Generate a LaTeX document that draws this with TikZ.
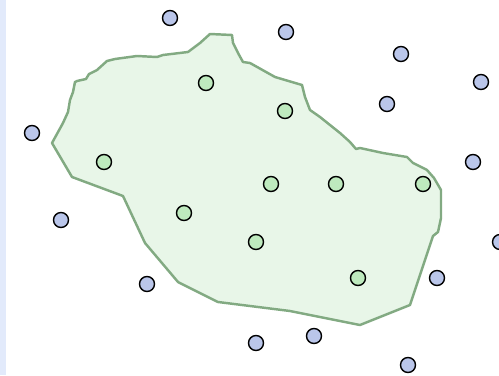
\documentclass[tikz,border=0pt]{standalone}
\usepackage{tikz}
\usetikzlibrary{backgrounds}
\usepackage{xcolor}
\definecolor{regionfill}{RGB}{232, 246, 232}
\definecolor{regionline}{RGB}{130, 170, 130}
\definecolor{outerdot}{RGB}{186, 198, 234}
\definecolor{innerdot}{RGB}{190, 234, 190}
\definecolor{sidestrip}{RGB}{226, 234, 251}
\tikzstyle{outpt} = [circle, draw=black, fill=outerdot, line width=0.8pt, minimum size=0.3cm, inner sep=0pt]
\tikzstyle{inpt} = [circle, draw=black, fill=innerdot, line width=0.8pt, minimum size=0.3cm, inner sep=0pt]
\tikzstyle{region} = [draw=regionline, fill=regionfill, line width=1.4pt, line join=round]

\begin{document}
\begin{tikzpicture}[x=0.02cm, y=-0.02cm]

% Frame
\useasboundingbox (0,0) rectangle (499,375);
\fill[sidestrip] (0,0) rectangle (6,375);

% Region
\draw[region] (52,143) -- (63,123) -- (68,112) -- (70,100) -- (73,92) -- (75,82) -- (77,81)
  -- (86,79) -- (89,74) -- (97,70) -- (107,61) -- (115,59) -- (137,56) -- (157,57)
  -- (163,55) -- (188,52) -- (200,43) -- (210,34) -- (232,35) -- (233,43) -- (238,53)
  -- (243,62) -- (250,63) -- (275,77) -- (302,85) -- (305,97) -- (310,110) -- (320,117)
  -- (330,125) -- (340,133) -- (350,142) -- (356,149) -- (360,148) -- (383,153)
  -- (407,157) -- (413,163) -- (427,170) -- (434,178) -- (441,190) -- (441,218)
  -- (438,232) -- (433,236) -- (410,305) -- (360,325) -- (290,311) -- (218,302)
  -- (178,282) -- (145,243) -- (123,196) -- (72,177) -- cycle;

% Points outside
\foreach \px/\py [count=\i] in {170/18, 286/32, 401/54, 481/82, 387/104, 32/133,
    473/162, 61/220, 500/242, 147/284, 437/278, 314/336, 256/343, 408/365}
  \node[outpt] (out\i) at (\px,\py) {};

% Points inside
\foreach \px/\py [count=\i] in {206/83, 285/111, 104/162, 271/184, 336/184, 423/184,
    184/213, 256/242, 358/278}
  \node[inpt] (in\i) at (\px,\py) {};

\end{tikzpicture}
\end{document}
